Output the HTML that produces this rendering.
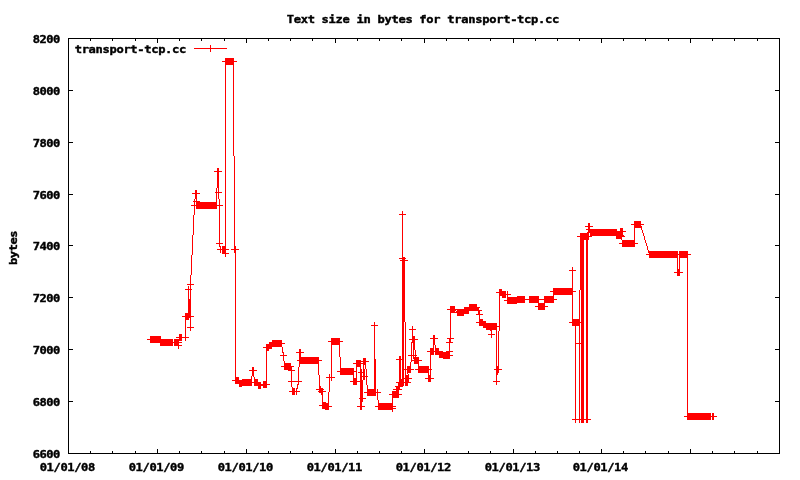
<!DOCTYPE html>
<html>
<head>
<meta charset="utf-8">
<title>Text size in bytes for transport-tcp.cc</title>
<style>
html,body{margin:0;padding:0;background:#fff;}
body{width:800px;height:480px;overflow:hidden;}
svg{display:block;}
text{font-family:"DejaVu Sans Mono","Liberation Mono",monospace;font-weight:bold;font-size:11px;fill:#000;stroke:#000;stroke-width:0.4px;}
</style>
</head>
<body>
<svg width="800" height="480" viewBox="0 0 800 480" shape-rendering="crispEdges">
<rect x="0" y="0" width="800" height="480" fill="#fff"/>
<rect x="68" y="38" width="712" height="1" fill="#000"/>
<rect x="68" y="453" width="712" height="1" fill="#000"/>
<rect x="68" y="38" width="1" height="416" fill="#000"/>
<rect x="779" y="38" width="1" height="416" fill="#000"/>
<rect x="69" y="453" width="4" height="1" fill="#000"/>
<rect x="775" y="453" width="4" height="1" fill="#000"/>
<text x="0" y="0" textLength="25.09" lengthAdjust="spacing" transform="translate(32.7 458) scale(1.1 1)">6600</text>
<rect x="69" y="401" width="4" height="1" fill="#000"/>
<rect x="775" y="401" width="4" height="1" fill="#000"/>
<text x="0" y="0" textLength="25.09" lengthAdjust="spacing" transform="translate(32.7 406) scale(1.1 1)">6800</text>
<rect x="69" y="349" width="4" height="1" fill="#000"/>
<rect x="775" y="349" width="4" height="1" fill="#000"/>
<text x="0" y="0" textLength="25.09" lengthAdjust="spacing" transform="translate(32.7 354) scale(1.1 1)">7000</text>
<rect x="69" y="297" width="4" height="1" fill="#000"/>
<rect x="775" y="297" width="4" height="1" fill="#000"/>
<text x="0" y="0" textLength="25.09" lengthAdjust="spacing" transform="translate(32.7 302) scale(1.1 1)">7200</text>
<rect x="69" y="245" width="4" height="1" fill="#000"/>
<rect x="775" y="245" width="4" height="1" fill="#000"/>
<text x="0" y="0" textLength="25.09" lengthAdjust="spacing" transform="translate(32.7 250) scale(1.1 1)">7400</text>
<rect x="69" y="194" width="4" height="1" fill="#000"/>
<rect x="775" y="194" width="4" height="1" fill="#000"/>
<text x="0" y="0" textLength="25.09" lengthAdjust="spacing" transform="translate(32.7 199) scale(1.1 1)">7600</text>
<rect x="69" y="142" width="4" height="1" fill="#000"/>
<rect x="775" y="142" width="4" height="1" fill="#000"/>
<text x="0" y="0" textLength="25.09" lengthAdjust="spacing" transform="translate(32.7 147) scale(1.1 1)">7800</text>
<rect x="69" y="90" width="4" height="1" fill="#000"/>
<rect x="775" y="90" width="4" height="1" fill="#000"/>
<text x="0" y="0" textLength="25.09" lengthAdjust="spacing" transform="translate(32.7 95) scale(1.1 1)">8000</text>
<rect x="69" y="38" width="4" height="1" fill="#000"/>
<rect x="775" y="38" width="4" height="1" fill="#000"/>
<text x="0" y="0" textLength="25.09" lengthAdjust="spacing" transform="translate(32.7 43) scale(1.1 1)">8200</text>
<text x="0" y="0" textLength="50.55" lengthAdjust="spacing" transform="translate(39.7 471) scale(1.1 1)">01/01/08</text>
<rect x="90" y="451" width="1" height="2" fill="#000"/>
<rect x="90" y="39" width="1" height="2" fill="#000"/>
<rect x="112" y="451" width="1" height="2" fill="#000"/>
<rect x="112" y="39" width="1" height="2" fill="#000"/>
<rect x="135" y="451" width="1" height="2" fill="#000"/>
<rect x="135" y="39" width="1" height="2" fill="#000"/>
<rect x="157" y="449" width="1" height="4" fill="#000"/>
<rect x="157" y="39" width="1" height="4" fill="#000"/>
<text x="0" y="0" textLength="50.55" lengthAdjust="spacing" transform="translate(128.7 471) scale(1.1 1)">01/01/09</text>
<rect x="179" y="451" width="1" height="2" fill="#000"/>
<rect x="179" y="39" width="1" height="2" fill="#000"/>
<rect x="201" y="451" width="1" height="2" fill="#000"/>
<rect x="201" y="39" width="1" height="2" fill="#000"/>
<rect x="224" y="451" width="1" height="2" fill="#000"/>
<rect x="224" y="39" width="1" height="2" fill="#000"/>
<rect x="246" y="449" width="1" height="4" fill="#000"/>
<rect x="246" y="39" width="1" height="4" fill="#000"/>
<text x="0" y="0" textLength="50.55" lengthAdjust="spacing" transform="translate(217.7 471) scale(1.1 1)">01/01/10</text>
<rect x="268" y="451" width="1" height="2" fill="#000"/>
<rect x="268" y="39" width="1" height="2" fill="#000"/>
<rect x="290" y="451" width="1" height="2" fill="#000"/>
<rect x="290" y="39" width="1" height="2" fill="#000"/>
<rect x="312" y="451" width="1" height="2" fill="#000"/>
<rect x="312" y="39" width="1" height="2" fill="#000"/>
<rect x="335" y="449" width="1" height="4" fill="#000"/>
<rect x="335" y="39" width="1" height="4" fill="#000"/>
<text x="0" y="0" textLength="50.55" lengthAdjust="spacing" transform="translate(306.7 471) scale(1.1 1)">01/01/11</text>
<rect x="357" y="451" width="1" height="2" fill="#000"/>
<rect x="357" y="39" width="1" height="2" fill="#000"/>
<rect x="379" y="451" width="1" height="2" fill="#000"/>
<rect x="379" y="39" width="1" height="2" fill="#000"/>
<rect x="401" y="451" width="1" height="2" fill="#000"/>
<rect x="401" y="39" width="1" height="2" fill="#000"/>
<rect x="424" y="449" width="1" height="4" fill="#000"/>
<rect x="424" y="39" width="1" height="4" fill="#000"/>
<text x="0" y="0" textLength="50.55" lengthAdjust="spacing" transform="translate(395.7 471) scale(1.1 1)">01/01/12</text>
<rect x="446" y="451" width="1" height="2" fill="#000"/>
<rect x="446" y="39" width="1" height="2" fill="#000"/>
<rect x="468" y="451" width="1" height="2" fill="#000"/>
<rect x="468" y="39" width="1" height="2" fill="#000"/>
<rect x="490" y="451" width="1" height="2" fill="#000"/>
<rect x="490" y="39" width="1" height="2" fill="#000"/>
<rect x="513" y="449" width="1" height="4" fill="#000"/>
<rect x="513" y="39" width="1" height="4" fill="#000"/>
<text x="0" y="0" textLength="50.55" lengthAdjust="spacing" transform="translate(484.7 471) scale(1.1 1)">01/01/13</text>
<rect x="535" y="451" width="1" height="2" fill="#000"/>
<rect x="535" y="39" width="1" height="2" fill="#000"/>
<rect x="557" y="451" width="1" height="2" fill="#000"/>
<rect x="557" y="39" width="1" height="2" fill="#000"/>
<rect x="579" y="451" width="1" height="2" fill="#000"/>
<rect x="579" y="39" width="1" height="2" fill="#000"/>
<rect x="601" y="449" width="1" height="4" fill="#000"/>
<rect x="601" y="39" width="1" height="4" fill="#000"/>
<text x="0" y="0" textLength="50.55" lengthAdjust="spacing" transform="translate(572.7 471) scale(1.1 1)">01/01/14</text>
<rect x="623" y="451" width="1" height="2" fill="#000"/>
<rect x="623" y="39" width="1" height="2" fill="#000"/>
<rect x="645" y="451" width="1" height="2" fill="#000"/>
<rect x="645" y="39" width="1" height="2" fill="#000"/>
<rect x="668" y="451" width="1" height="2" fill="#000"/>
<rect x="668" y="39" width="1" height="2" fill="#000"/>
<rect x="690" y="449" width="1" height="4" fill="#000"/>
<rect x="690" y="39" width="1" height="4" fill="#000"/>
<rect x="712" y="451" width="1" height="2" fill="#000"/>
<rect x="712" y="39" width="1" height="2" fill="#000"/>
<rect x="734" y="451" width="1" height="2" fill="#000"/>
<rect x="734" y="39" width="1" height="2" fill="#000"/>
<rect x="757" y="451" width="1" height="2" fill="#000"/>
<rect x="757" y="39" width="1" height="2" fill="#000"/>
<text x="0" y="0" textLength="247.82" lengthAdjust="spacing" transform="translate(286.7 23) scale(1.1 1)">Text size in bytes for transport-tcp.cc</text>
<text x="0" y="0" textLength="31.45" lengthAdjust="spacing" transform="translate(17 265) rotate(-90) scale(1.1 1)">bytes</text>
<text x="0" y="0" textLength="101.45" lengthAdjust="spacing" transform="translate(74.7 53) scale(1.1 1)">transport-tcp.cc</text>
<rect x="194" y="48" width="33" height="1" fill="#f00"/>
<rect x="210" y="45" width="1" height="7" fill="#f00"/>
<path d="M147 339h3v1h-3zM150 336h10v7h-10zM160 336h1v10h-1zM161 339h12v7h-12zM173 342h1v1h-1zM174 339h4v7h-4zM176 337h3v1h-3zM178 339h1v10h-1zM179 334h3v7h-3zM179 342h3v1h-3zM179 345h3v1h-3zM182 316h3v1h-3zM182 337h3v1h-3zM185 313h1v28h-1zM185 289h3v1h-3zM186 313h2v7h-2zM188 286h1v34h-1zM186 337h3v1h-3zM187 284h3v1h-3zM189 289h1v1h-1zM189 299h1v19h-1zM187 327h3v1h-3zM190 275h1v56h-1zM191 255h1v20h-1zM191 289h1v1h-1zM192 235h1v20h-1zM193 201h1v1h-1zM191 205h3v1h-3zM193 215h1v20h-1zM191 284h3v1h-3zM191 316h3v1h-3zM191 327h3v1h-3zM192 193h3v1h-3zM194 199h1v16h-1zM195 190h1v9h-1zM195 201h1v1h-1zM195 205h1v1h-1zM196 190h1v19h-1zM197 193h3v1h-3zM197 201h3v8h-3zM215 192h1v1h-1zM200 202h16v7h-16zM214 171h3v1h-3zM216 188h1v21h-1zM217 168h1v20h-1zM217 192h1v1h-1zM218 168h1v31h-1zM217 205h2v1h-2zM216 243h3v1h-3zM219 199h1v48h-1zM217 249h3v1h-3zM220 246h1v7h-1zM219 171h3v1h-3zM219 192h3v1h-3zM221 249h1v1h-1zM220 205h3v1h-3zM220 243h3v1h-3zM222 61h3v1h-3zM222 246h3v8h-3zM225 58h1v199h-1zM226 249h3v1h-3zM226 253h3v1h-3zM226 58h7v7h-7zM233 58h1v98h-1zM231 249h3v1h-3zM234 156h1v97h-1zM232 380h3v1h-3zM235 246h1v138h-1zM234 61h3v1h-3zM236 249h3v1h-3zM236 377h3v7h-3zM239 380h3v7h-3zM242 379h9v7h-9zM249 370h3v1h-3zM251 376h1v10h-1zM252 367h1v9h-1zM253 367h1v10h-1zM252 382h2v1h-2zM254 377h1v9h-1zM254 370h3v1h-3zM255 379h3v7h-3zM258 382h3v7h-3zM261 384h2v2h-2zM263 347h3v1h-3zM263 381h3v7h-3zM266 344h1v44h-1zM267 344h2v7h-2zM267 384h3v1h-3zM269 342h3v7h-3zM272 340h10v7h-10zM282 347h1v6h-1zM280 355h3v1h-3zM283 352h1v9h-1zM281 366h3v1h-3zM282 343h3v1h-3zM284 361h1v9h-1zM284 355h3v1h-3zM285 363h3v7h-3zM288 363h3v8h-3zM288 381h3v1h-3zM291 366h1v21h-1zM289 391h3v1h-3zM292 387h1v8h-1zM292 366h2v1h-2zM292 370h3v1h-3zM293 388h2v7h-2zM295 391h1v1h-1zM296 388h1v7h-1zM292 381h6v1h-6zM297 384h1v5h-1zM296 352h3v1h-3zM297 360h2v1h-2zM298 367h1v18h-1zM299 349h1v18h-1zM297 391h3v1h-3zM300 349h1v15h-1zM299 381h3v1h-3zM301 352h3v1h-3zM301 357h17v7h-17zM318 357h1v18h-1zM316 389h3v1h-3zM318 391h1v1h-1zM319 375h1v18h-1zM320 386h1v7h-1zM319 360h3v1h-3zM321 388h1v7h-1zM319 405h3v1h-3zM322 388h1v21h-1zM323 389h1v1h-1zM323 402h2v7h-2zM323 391h3v1h-3zM325 402h1v8h-1zM326 403h2v7h-2zM326 377h3v1h-3zM328 392h1v18h-1zM329 374h1v18h-1zM328 341h3v1h-3zM330 377h1v1h-1zM331 338h1v43h-1zM329 406h3v1h-3zM332 377h3v1h-3zM332 338h7v7h-7zM339 338h1v19h-1zM337 371h3v1h-3zM340 357h1v18h-1zM340 341h3v1h-3zM341 368h12v7h-12zM350 381h3v1h-3zM353 368h1v17h-1zM353 363h3v1h-3zM354 371h2v1h-2zM354 378h2v7h-2zM356 360h1v25h-1zM357 360h3v7h-3zM358 372h2v1h-2zM357 381h3v1h-3zM359 398h1v1h-1zM357 406h3v1h-3zM360 360h1v50h-1zM361 369h1v41h-1zM361 361h2v1h-2zM361 363h2v1h-2zM362 372h1v1h-1zM362 376h1v1h-1zM362 380h1v22h-1zM363 358h1v22h-1zM364 358h1v7h-1zM364 369h1v11h-1zM362 406h3v1h-3zM365 358h1v11h-1zM365 376h1v1h-1zM363 398h3v1h-3zM366 369h1v16h-1zM364 392h3v1h-3zM367 376h1v1h-1zM367 385h1v11h-1zM366 361h3v1h-3zM371 325h3v1h-3zM368 389h6v7h-6zM374 322h1v74h-1zM375 359h1v37h-1zM376 392h1v1h-1zM375 325h3v1h-3zM377 389h1v11h-1zM375 406h3v1h-3zM378 400h1v10h-1zM378 392h3v1h-3zM389 394h3v1h-3zM379 403h13v7h-13zM392 391h1v21h-1zM395 386h1v1h-1zM393 389h3v1h-3zM393 391h3v7h-3zM393 406h3v1h-3zM393 408h3v1h-3zM396 382h2v1h-2zM396 386h2v12h-2zM396 359h3v1h-3zM398 382h1v16h-1zM399 356h1v34h-1zM400 356h1v31h-1zM399 214h3v1h-3zM399 258h3v1h-3zM400 260h2v1h-2zM401 359h1v1h-1zM401 379h1v8h-1zM400 389h2v1h-2zM399 394h3v1h-3zM402 211h1v176h-1zM403 257h1v129h-1zM404 257h1v65h-1zM404 369h1v1h-1zM404 378h1v1h-1zM404 382h1v1h-1zM403 214h3v1h-3zM405 258h1v1h-1zM405 322h1v64h-1zM406 369h1v1h-1zM405 260h3v1h-3zM407 366h1v8h-1zM406 375h2v11h-2zM408 374h1v9h-1zM408 366h2v7h-2zM408 355h3v1h-3zM410 362h1v11h-1zM409 382h2v1h-2zM409 329h3v1h-3zM409 339h3v1h-3zM411 342h1v20h-1zM409 378h3v1h-3zM412 326h1v17h-1zM412 355h1v1h-1zM413 336h1v23h-1zM412 360h2v1h-2zM411 369h3v1h-3zM414 336h1v14h-1zM414 355h1v1h-1zM414 357h1v7h-1zM413 329h3v1h-3zM415 350h1v14h-1zM416 355h1v1h-1zM415 339h3v1h-3zM416 357h2v7h-2zM415 369h3v1h-3zM418 357h1v16h-1zM419 360h3v1h-3zM419 366h9v7h-9zM425 378h3v1h-3zM428 366h1v16h-1zM427 351h3v1h-3zM429 369h1v1h-1zM429 375h1v7h-1zM430 348h1v34h-1zM431 369h1v1h-1zM430 338h3v1h-3zM431 348h2v7h-2zM433 335h1v20h-1zM431 378h3v1h-3zM434 335h1v10h-1zM434 351h1v1h-1zM435 345h1v10h-1zM435 338h3v1h-3zM436 348h3v7h-3zM439 351h4v7h-4zM443 352h3v7h-3zM447 338h2v1h-2zM446 342h3v1h-3zM446 351h3v8h-3zM447 309h3v1h-3zM449 338h1v21h-1zM450 306h1v37h-1zM451 342h2v1h-2zM450 351h3v1h-3zM450 355h3v1h-3zM451 338h3v1h-3zM451 306h4v7h-4zM455 309h1v2h-1zM455 312h1v1h-1zM456 309h1v1h-1zM456 311h1v2h-1zM457 309h7v7h-7zM464 307h5v7h-5zM469 304h8v7h-8zM477 307h1v4h-1zM476 314h2v1h-2zM478 307h1v8h-1zM476 322h3v1h-3zM479 307h1v1h-1zM479 310h1v16h-1zM480 310h2v1h-2zM480 314h3v1h-3zM480 319h3v7h-3zM483 321h3v7h-3zM486 323h4v7h-4zM490 323h1v8h-1zM488 334h3v1h-3zM491 323h1v15h-1zM492 334h3v1h-3zM492 323h4v7h-4zM494 369h2v1h-2zM493 381h3v1h-3zM496 323h1v62h-1zM497 366h1v9h-1zM496 292h3v1h-3zM497 326h2v1h-2zM498 331h1v42h-1zM499 289h1v42h-1zM497 381h3v1h-3zM500 289h2v7h-2zM499 369h3v1h-3zM502 291h4v7h-4zM506 294h1v1h-1zM504 300h3v1h-3zM507 291h1v13h-1zM508 294h3v1h-3zM508 297h9v7h-9zM517 296h8v7h-8zM525 299h4v1h-4zM529 296h9v7h-9zM535 306h3v1h-3zM538 296h1v14h-1zM539 299h5v1h-5zM539 303h5v7h-5zM544 296h1v14h-1zM545 306h3v1h-3zM550 291h3v1h-3zM545 296h8v7h-8zM553 288h1v15h-1zM554 299h3v1h-3zM569 270h3v1h-3zM554 288h18v7h-18zM569 322h3v1h-3zM572 267h1v59h-1zM573 319h2v7h-2zM572 419h3v1h-3zM573 270h3v1h-3zM573 291h3v1h-3zM575 319h1v104h-1zM576 319h3v7h-3zM576 343h3v1h-3zM576 419h3v1h-3zM577 236h3v1h-3zM579 290h1v133h-1zM580 233h1v57h-1zM580 322h1v1h-1zM580 343h1v1h-1zM580 419h1v1h-1zM581 233h3v190h-3zM584 233h2v7h-2zM584 419h2v1h-2zM586 233h1v190h-1zM585 226h3v1h-3zM586 229h2v1h-2zM587 232h1v191h-1zM588 223h1v17h-1zM589 223h1v10h-1zM589 236h1v1h-1zM588 419h3v1h-3zM590 229h2v8h-2zM590 226h3v1h-3zM592 229h24v7h-24zM616 229h1v10h-1zM617 231h3v8h-3zM620 228h1v11h-1zM621 228h1v12h-1zM619 243h3v1h-3zM622 228h1v9h-1zM623 235h1v2h-1zM624 236h1v1h-1zM623 231h3v1h-3zM631 224h3v1h-3zM622 240h12v7h-12zM634 221h1v26h-1zM635 243h3v1h-3zM635 221h6v7h-6zM641 226h1v4h-1zM642 230h1v3h-1zM641 224h3v1h-3zM643 233h1v3h-1zM644 236h1v4h-1zM645 240h1v3h-1zM646 243h1v3h-1zM647 246h1v4h-1zM648 250h1v3h-1zM646 254h3v1h-3zM649 251h28v7h-28zM674 272h3v1h-3zM677 251h1v25h-1zM678 254h1v1h-1zM678 269h1v7h-1zM679 251h1v25h-1zM680 272h3v1h-3zM680 251h7v7h-7zM684 416h3v1h-3zM687 251h1v169h-1zM688 254h3v1h-3zM688 413h23v7h-23zM711 416h1v1h-1zM712 413h2v7h-2zM714 416h3v1h-3z" fill="#f00" stroke="none"/>
</svg>
</body>
</html>
